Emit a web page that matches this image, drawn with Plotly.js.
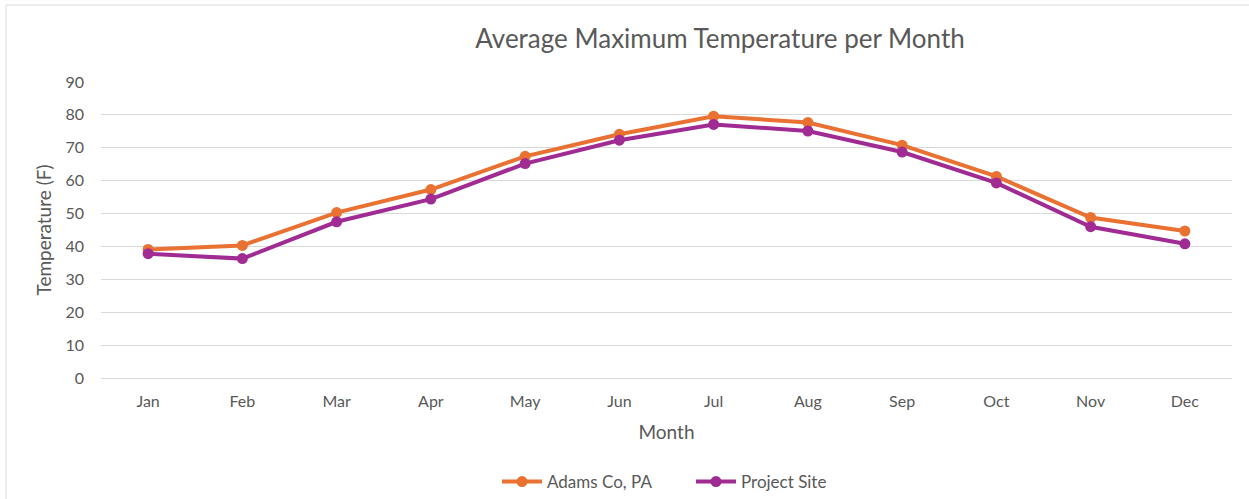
<!DOCTYPE html>
<html>
<head>
<meta charset="utf-8">
<script src="https://cdn.plot.ly/plotly-3.0.1.min.js"></script>
<style>
  html, body { margin: 0; padding: 0; background: #ffffff; }
  #chart { width: 1249px; height: 499px; }
</style>
</head>
<body>
<div id="chart"></div>
<script>
const months = ["Jan","Feb","Mar","Apr","May","Jun","Jul","Aug","Sep","Oct","Nov","Dec"];
const adamsCo = [39.1, 40.3, 50.3, 57.3, 67.4, 74.1, 79.6, 77.7, 70.8, 61.3, 48.8, 44.7];
const projectSite = [37.8, 36.3, 47.5, 54.4, 65.2, 72.3, 77.1, 75.1, 68.7, 59.3, 46.0, 40.8];
const yTicks = [0, 10, 20, 30, 40, 50, 60, 70, 80, 90];

const FONT = "Lato, 'Open Sans', 'Noto Sans', sans-serif";
const GREY = "#595959";

const traces = [
  {
    x: months, y: adamsCo, name: "Adams Co, PA", type: "scatter", mode: "lines+markers",
    line: { color: "#E97132", width: 4 },
    marker: { color: "#E97132", size: 11 }
  },
  {
    x: months, y: projectSite, name: "Project Site", type: "scatter", mode: "lines+markers",
    line: { color: "#A02B93", width: 4 },
    marker: { color: "#A02B93", size: 11 }
  }
];

const layout = {
  width: 1249, height: 499,
  margin: { l: 101, r: 17, t: 82, b: 121 },
  paper_bgcolor: "#ffffff",
  plot_bgcolor: "#ffffff",
  font: { family: FONT, color: GREY, size: 16 },
  title: {
    text: "Average Maximum Temperature per Month",
    font: { family: FONT, size: 26, color: GREY },
    x: 720 / 1249, xref: "container", xanchor: "center",
    y: 1 - 39 / 499, yref: "container", yanchor: "middle"
  },
  xaxis: {
    type: "category",
    tickvals: months, ticktext: months,
    showgrid: false, zeroline: false, showline: false,
    ticks: "", ticklabelstandoff: 12,
    tickfont: { family: FONT, size: 16, color: GREY },
    title: { text: "Month", font: { family: FONT, size: 19, color: GREY }, standoff: 16 },
    range: [-0.5, 11.5]
  },
  yaxis: {
    range: [0, 90], tickvals: yTicks, ticktext: yTicks.map(String),
    showgrid: true, gridcolor: "#D9D9D9", gridwidth: 1,
    zeroline: true, zerolinecolor: "#D9D9D9", zerolinewidth: 1,
    showline: false, ticks: "", ticklabelstandoff: 16,
    tickfont: { family: FONT, size: 16, color: GREY },
    title: { text: "Temperature (F)", font: { family: FONT, size: 19, color: GREY }, standoff: 8 },
    fixedrange: true
  },
  showlegend: true,
  legend: {
    orientation: "h", x: 497 / 1249, xref: "container", xanchor: "left",
    y: 1 - 482 / 499, yref: "container", yanchor: "middle",
    font: { family: FONT, size: 17, color: GREY },
    itemwidth: 40, tracegroupgap: 0,
    entrywidth: 139, entrywidthmode: "pixels"
  },
  shapes: [
    {
      type: "rect", xref: "paper", yref: "paper",
      x0: (6 - 101) / 1131, x1: 1.3, y0: -1, y1: (378 - 5) / 296,
      line: { color: "#D9D9D9", width: 1 }, fillcolor: "rgba(0,0,0,0)", layer: "below"
    }
  ]
};

Plotly.newPlot("chart", traces, layout, { displayModeBar: false, staticPlot: true });
</script>
</body>
</html>
